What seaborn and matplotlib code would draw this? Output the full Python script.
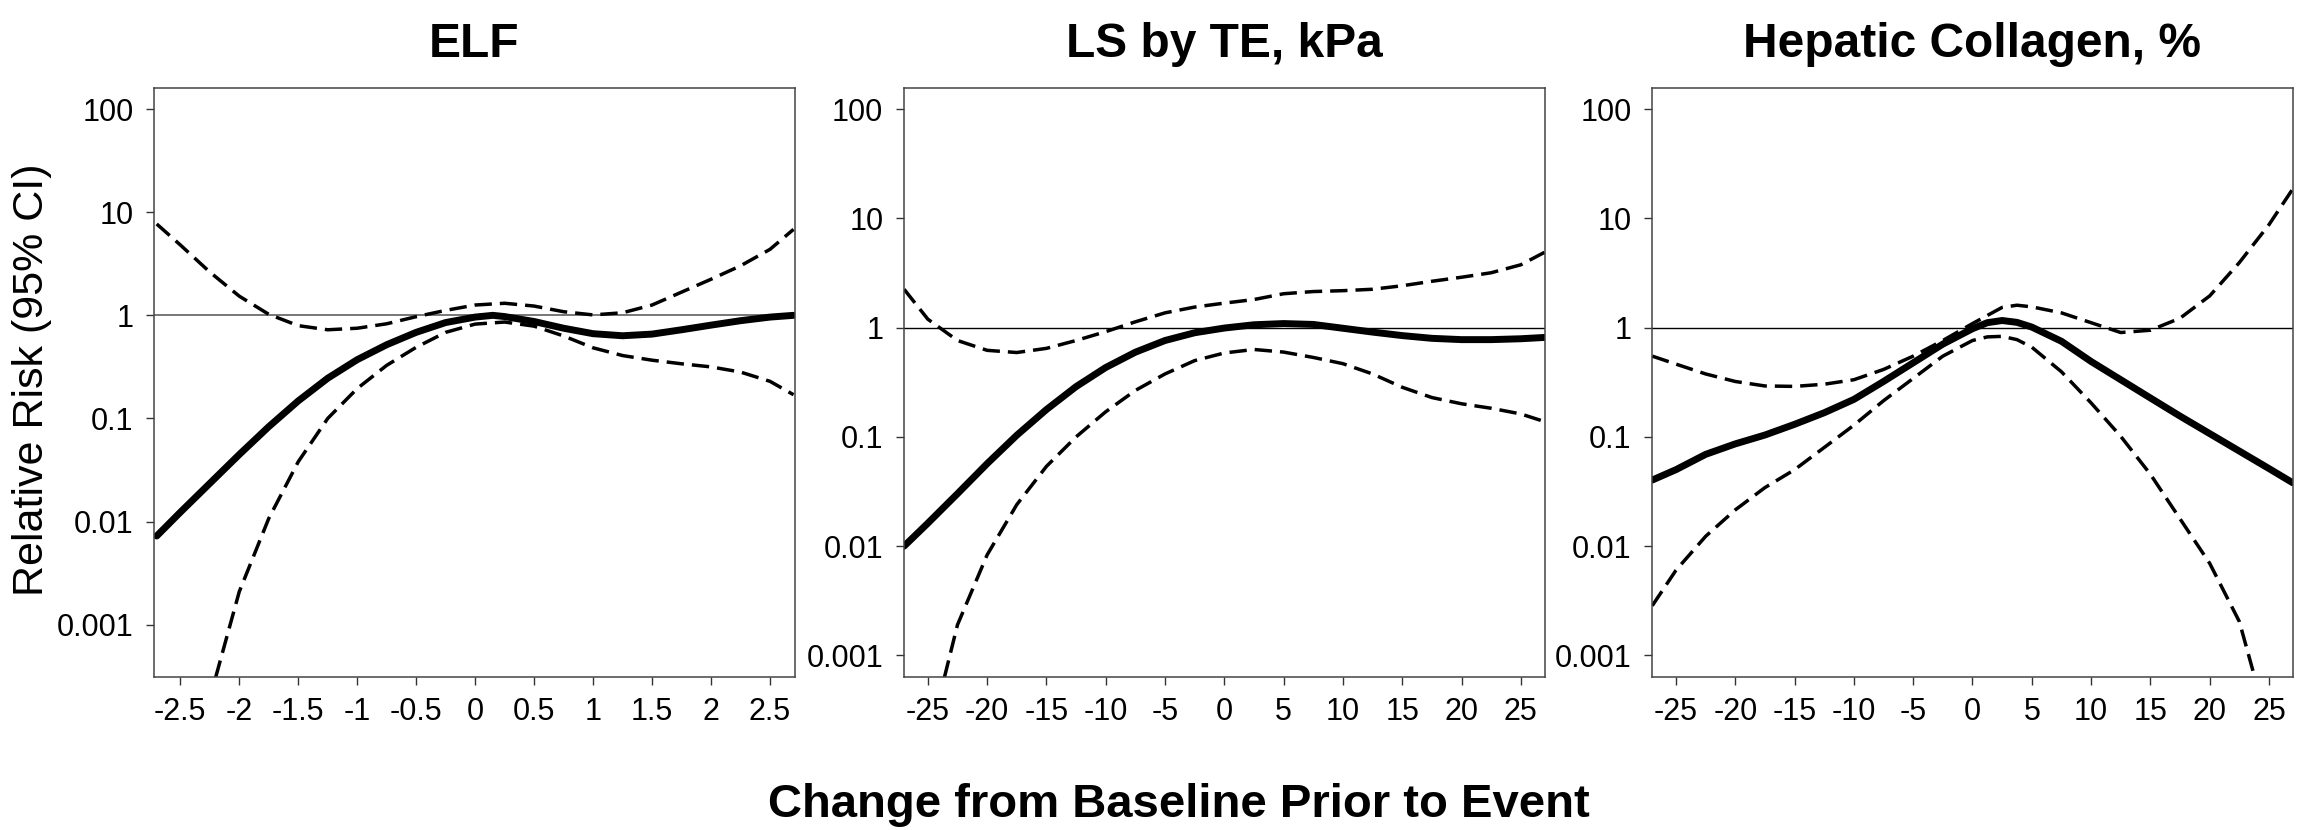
# Relative risk vs change from baseline, three panels (log scale)
import numpy as np
import pandas as pd
from matplotlib import pyplot as plt
import seaborn as sns

# values, stored as log10(relative risk)
# ELF
elf_x = [-2.7, -2.5, -2.25, -2, -1.75, -1.5, -1.25, -1, -0.75, -0.5, -0.25, 0, 0.15,
         0.25, 0.5, 0.75, 1, 1.25, 1.5, 1.75, 2, 2.25, 2.5, 2.7]
elf_rr = [-2.14, -1.91, -1.63, -1.35, -1.08, -0.83, -0.61, -0.43, -0.285, -0.165, -0.07, -0.017, 0.0,
          -0.012, -0.06, -0.125, -0.178, -0.198, -0.182, -0.14, -0.095, -0.052, -0.017, 0.0]
elf_up_x = [-2.7, -2.5, -2.25, -2, -1.75, -1.5, -1.25, -1, -0.75, -0.5, -0.25, 0, 0.25,
            0.5, 0.75, 1, 1.25, 1.5, 1.75, 2, 2.25, 2.5, 2.7]
elf_up = [0.886, 0.683, 0.42, 0.186, 0.01, -0.10, -0.14, -0.125, -0.082, -0.013, 0.048, 0.10, 0.117,
          0.09, 0.035, 0.004, 0.025, 0.10, 0.225, 0.35, 0.48, 0.64, 0.834]
elf_lo_x = [-2.2, -2, -1.75, -1.5, -1.25, -1, -0.75, -0.5, -0.25, 0, 0.25, 0.5, 0.75,
            1, 1.25, 1.5, 1.75, 2, 2.25, 2.5, 2.7]
elf_lo = [-3.51, -2.68, -1.97, -1.42, -1.0, -0.71, -0.485, -0.31, -0.165, -0.085, -0.065, -0.105, -0.20,
          -0.315, -0.39, -0.435, -0.47, -0.50, -0.55, -0.64, -0.77]

# LS by TE
ls_x = [-27, -25, -22.5, -20, -17.5, -15, -12.5, -10, -7.5, -5, -2.5, 0, 2.5, 5,
        7.5, 10, 12.5, 15, 17.5, 20, 22.5, 25, 27]
ls_rr = [-2.0, -1.79, -1.52, -1.245, -0.985, -0.75, -0.54, -0.365, -0.225, -0.118, -0.047, -0.004, 0.026, 0.037,
         0.029, -0.006, -0.041, -0.073, -0.098, -0.11, -0.11, -0.102, -0.09]
ls_up = [0.351, 0.077, -0.118, -0.208, -0.228, -0.19, -0.118, -0.037, 0.053, 0.135, 0.188, 0.224, 0.257, 0.31,
         0.33, 0.338, 0.351, 0.383, 0.424, 0.461, 0.502, 0.575, 0.689]
ls_lo_x = [-23.6, -22.5, -20, -17.5, -15, -12.5, -10, -7.5, -5, -2.5, 0, 2.5, 5,
           7.5, 10, 12.5, 15, 17.5, 20, 22.5, 25, 27]
ls_lo = [-3.2, -2.72, -2.08, -1.62, -1.27, -1.0, -0.77, -0.575, -0.424, -0.302, -0.232, -0.20, -0.224,
         -0.273, -0.33, -0.424, -0.546, -0.64, -0.697, -0.738, -0.79, -0.86]

# Hepatic collagen
hc_x = [-27, -25, -22.5, -20, -17.5, -15, -12.5, -10, -7.5, -5, -2.5, 0, 1.25, 2.5, 3.75, 5,
        7.5, 10, 12.5, 15, 17.5, 20, 22.5, 25, 27]
hc_rr = [-1.395, -1.30, -1.16, -1.064, -0.983, -0.885, -0.779, -0.657, -0.493, -0.322, -0.151, -0.01, 0.045, 0.065,
         0.048, 0.005, -0.125, -0.31, -0.477, -0.644, -0.81, -0.97, -1.13, -1.29, -1.42]
hc_up_x = [-27, -25, -22.5, -20, -17.5, -15, -12.5, -10, -7.5, -5, -2.5, 0, 2.5, 3.75, 5,
           7.5, 10, 12.5, 15, 17.5, 20, 22.5, 25, 27]
hc_up = [-0.261, -0.334, -0.424, -0.493, -0.534, -0.538, -0.518, -0.477, -0.383, -0.261, -0.118, 0.037, 0.185, 0.205, 0.19,
         0.135, 0.045, -0.045, -0.024, 0.086, 0.29, 0.595, 0.942, 1.268]
hc_lo_x = [-27, -25, -22.5, -20, -17.5, -15, -12.5, -10, -7.5, -5, -2.5, 0, 1.25, 2.5, 3.75, 5,
           7.5, 10, 12.5, 15, 17.5, 20, 22.5, 23.8]
hc_lo = [-2.545, -2.22, -1.91, -1.668, -1.464, -1.30, -1.097, -0.893, -0.669, -0.465, -0.261, -0.118, -0.085, -0.08, -0.11,
         -0.179, -0.404, -0.689, -0.995, -1.342, -1.75, -2.157, -2.69, -3.2]

titles = ['ELF', 'LS by TE, kPa', 'Hepatic Collagen, %']
elf_ticks = [-2.5, -2, -1.5, -1, -0.5, 0, 0.5, 1, 1.5, 2, 2.5]
elf_ticklabels = ['-2.5', '-2', '-1.5', '-1', '-0.5', '0', '0.5', '1', '1.5', '2', '2.5']
pct_ticks = [-25, -20, -15, -10, -5, 0, 5, 10, 15, 20, 25]
pct_ticklabels = ['-25', '-20', '-15', '-10', '-5', '0', '5', '10', '15', '20', '25']
y_ticks = [100, 10, 1, 0.1, 0.01, 0.001]
y_ticklabels = ['100', '10', '1', '0.1', '0.01', '0.001']

panels = [
    (elf_x, elf_rr, elf_up_x, elf_up, elf_lo_x, elf_lo, elf_ticks, elf_ticklabels, (-2.72, 2.71), (-3.51, 2.208)),
    (ls_x, ls_rr, ls_x, ls_up, ls_lo_x, ls_lo, pct_ticks, pct_ticklabels, (-27, 27), (-3.20, 2.196)),
    (hc_x, hc_rr, hc_up_x, hc_up, hc_lo_x, hc_lo, pct_ticks, pct_ticklabels, (-27, 27), (-3.20, 2.196)),
]

sns.set_theme(style='white')
plt.rcParams['font.family'] = ['Liberation Sans', 'DejaVu Sans']
plt.rcParams['axes.unicode_minus'] = False
plt.rcParams['text.color'] = 'black'

fig = plt.figure(figsize=(23.07, 8.30), dpi=100)
lefts = [0.0669, 0.3919, 0.7162]
dash = (0, (5, 2.3))

for i, (x, rr, ux, up, lx, lo, xt, xtl, xl, yl) in enumerate(panels):
    ax = fig.add_axes([lefts[i], 0.184, 0.2776, 0.7104])
    ax.set_yscale('log')

    # reference line at RR = 1
    if i == 0:
        ax.axhline(1, color='#777777', lw=1.4, zorder=1)
    else:
        ax.axhline(1, color='black', lw=1.0, zorder=1)

    sns.lineplot(x=ux, y=10 ** np.array(up), ax=ax, color='black', lw=2.5,
                 linestyle=dash, estimator=None)
    sns.lineplot(x=lx, y=10 ** np.array(lo), ax=ax, color='black', lw=2.5,
                 linestyle=dash, estimator=None)
    sns.lineplot(x=x, y=10 ** np.array(rr), ax=ax, color='black', lw=5.0,
                 estimator=None, solid_capstyle='round', solid_joinstyle='round')

    ax.set_xlim(*xl)
    ax.set_ylim(10 ** yl[0], 10 ** yl[1])
    ax.set_xticks(xt)
    ax.set_xticklabels(xtl)
    ax.set_yticks(y_ticks)
    ax.set_yticklabels(y_ticklabels)
    ax.minorticks_off()
    ax.tick_params(axis='both', which='major', direction='out', length=6, width=1.0,
                   color='#333333', labelsize=22, labelcolor='black',
                   bottom=True, left=True)
    ax.tick_params(axis='x', pad=8)
    ax.tick_params(axis='y', pad=9)
    for sp in ax.spines.values():
        sp.set_visible(True)
        sp.set_color('#444444')
        sp.set_linewidth(1.1)
    ax.set_xlabel(None)
    ax.set_ylabel(None)
    ax.set_title(titles[i], fontsize=34.5, fontweight='bold', pad=22, color='black')

fig.text(0.014, 0.542, 'Relative Risk (95% CI)', rotation=90, ha='center', va='center',
         fontsize=31, color='black')
fig.text(0.5109, 0.016, 'Change from Baseline Prior to Event', ha='center', va='baseline',
         fontsize=34, fontweight='bold', color='black')

plt.savefig('out.png', dpi=100)
